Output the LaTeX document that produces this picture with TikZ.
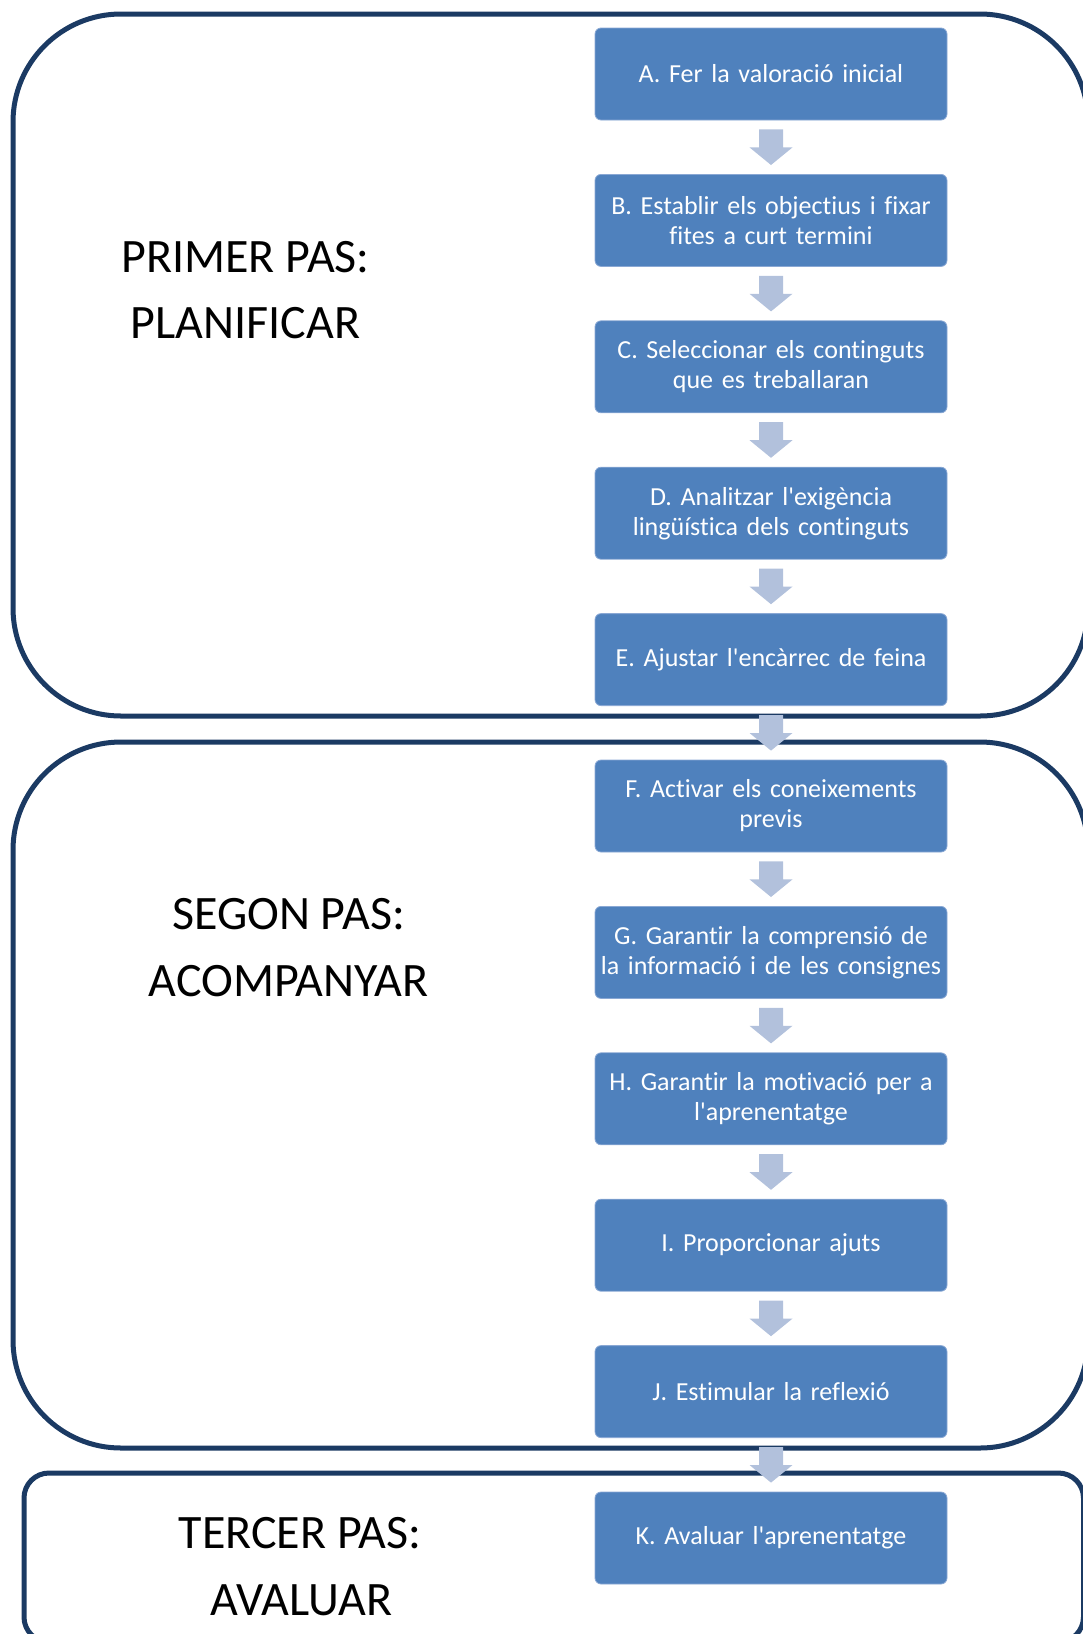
\documentclass[tikz,border=0pt]{standalone}
\usepackage{fontspec}
\setmainfont{Carlito}[Ligatures=NoCommon]
\usetikzlibrary{calc}
\definecolor{boxblue}{HTML}{4F81BD}
\definecolor{boxedge}{HTML}{8AA8D4}
\definecolor{arrowc}{HTML}{B2C1DC}
\definecolor{navy}{HTML}{1B3A63}
\newcommand{\apos}{\textquotesingle}
\tikzset{
  stepbox/.style={rectangle, rounded corners=6pt, fill=boxblue, draw=boxedge, line width=0.8pt,
    minimum width=352pt, minimum height=92pt, text width=348pt, align=center,
    text=white, font=\fontsize{26}{30}\selectfont, inner sep=0pt},
  phase/.style={line width=5pt, draw=navy},
  bigtext/.style={font=\fontsize{48}{67}\selectfont, text=black, anchor=base, inner sep=0pt},
}
\newcommand{\blockarrow}[2]{%
  \fill[arrowc] ($(#1.south)+(-12,9)$) -- ($(#1.south)+(12,9)$) -- ($(#1.south)+(12,27)$)
    -- ($(#1.south)+(21.5,27)$) -- ($(#2.north)+(0,-9)$) -- ($(#1.south)+(-21.5,27)$)
    -- ($(#1.south)+(-12,27)$) -- cycle;}
\begin{document}
\begin{tikzpicture}[x=1pt,y=-1pt]
\useasboundingbox (0,0) rectangle (1083,1634);
\clip (0,0) rectangle (1083,1634);
% phase containers
\draw[phase, rounded corners=108pt] (13,14) rectangle (1088,716);
\draw[phase, rounded corners=108pt] (13,742) rectangle (1088,1448);
\draw[phase, rounded corners=25pt] (24,1473) rectangle (1083.5,1642);
% phase labels
\node[bigtext] (p1a) at (245.5,272) {PRIMER PAS:};
\node[bigtext] (p1b) at (245.5,338) {PLANIFICAR};
\node[bigtext] (p2a) at (288.5,929) {SEGON PAS:};
\node[bigtext] (p2b) at (288.5,996) {ACOMPANYAR};
\node[bigtext] (p3a) at (300,1548) {TERCER PAS:};
\node[bigtext] (p3b) at (301.5,1615) {AVALUAR};
% steps
\node[stepbox] (A) at (771,74) {A. Fer la valoració inicial};
\node[stepbox] (B) at (771,220.4) {B. Establir els objectius i fixar\\fites a curt termini};
\node[stepbox] (C) at (771,366.8) {C. Seleccionar els continguts\\que es treballaran};
\node[stepbox] (D) at (771,513.2) {D. Analitzar l\apos exigència\\lingüística dels continguts};
\node[stepbox] (E) at (771,659.6) {E. Ajustar l\apos encàrrec de feina};
\node[stepbox] (F) at (771,806) {F. Activar els coneixements\\previs};
\node[stepbox] (G) at (771,952.4) {G. Garantir la comprensió de\\la informació i de les consignes};
\node[stepbox] (H) at (771,1098.8) {H. Garantir la motivació per a\\l\apos aprenentatge};
\node[stepbox] (I) at (771,1245.2) {I. Proporcionar ajuts};
\node[stepbox] (J) at (771,1391.6) {J. Estimular la reflexió};
\node[stepbox] (K) at (771,1538) {K. Avaluar l\apos aprenentatge};
% arrows
\blockarrow{A}{B}
\blockarrow{B}{C}
\blockarrow{C}{D}
\blockarrow{D}{E}
\blockarrow{E}{F}
\blockarrow{F}{G}
\blockarrow{G}{H}
\blockarrow{H}{I}
\blockarrow{I}{J}
\blockarrow{J}{K}
\end{tikzpicture}
\end{document}
